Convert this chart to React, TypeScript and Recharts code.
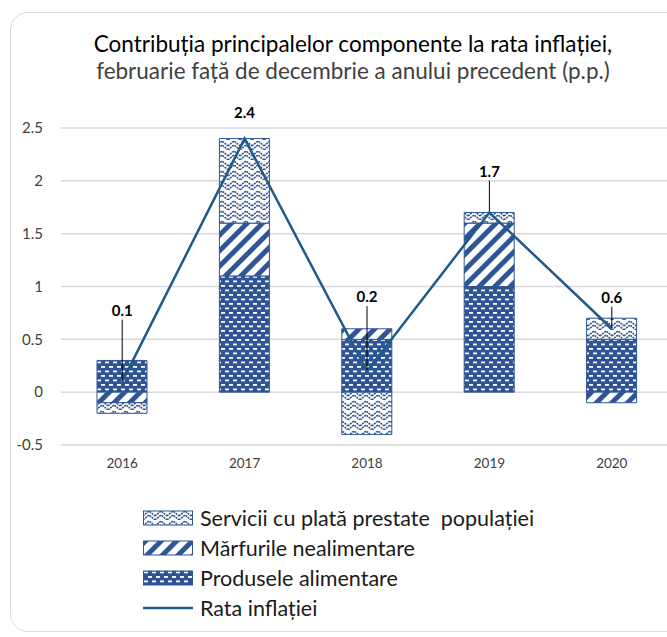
import React from 'react';
import {
  ComposedChart,
  Bar,
  Line,
  XAxis,
  YAxis,
  CartesianGrid,
  LabelList,
} from 'recharts';

const years = ['2016', '2017', '2018', '2019', '2020'];
const food = [0.3, 1.1, 0.5, 1.0, 0.5];
const nonFood = [-0.1, 0.5, 0.1, 0.6, -0.1];
const services = [-0.1, 0.8, -0.4, 0.1, 0.2];
const inflation = [0.1, 2.4, 0.2, 1.7, 0.6];
const yTicks = [-0.5, 0, 0.5, 1, 1.5, 2, 2.5];

const seriesNames = {
  services: 'Servicii cu plată prestate  populației',
  nonFood: 'Mărfurile nealimentare',
  food: 'Produsele alimentare',
  rate: 'Rata inflației',
};

const data = years.map((year, i) => ({
  year,
  food: food[i],
  nonFood: nonFood[i],
  services: services[i],
  rate: inflation[i],
}));

const BLUE = '#2F5597';
const LINE_BLUE = '#1F5A8A';
const FONT = 'Lato, "Noto Sans", sans-serif';

// how far above the line point each value label sits, and whether it gets a leader line
const labelLift = [72, 27, 75, 42, 32];
const hasLeader = [true, false, true, true, true];

const Patterns = () => (
  <defs>
    <pattern id="patFood" width="8" height="9" patternUnits="userSpaceOnUse">
      <rect width="8" height="9" fill={BLUE} />
      <rect x="1" y="1.5" width="4" height="1.8" fill="#fff" />
      <rect x="5" y="6" width="4" height="1.8" fill="#fff" />
      <rect x="-3" y="6" width="4" height="1.8" fill="#fff" />
    </pattern>
    <pattern
      id="patNonFood"
      width="11"
      height="11"
      patternUnits="userSpaceOnUse"
      patternTransform="rotate(45)"
    >
      <rect width="11" height="11" fill="#fff" />
      <rect width="5" height="11" fill={BLUE} />
    </pattern>
    <pattern id="patServices" width="12" height="10" patternUnits="userSpaceOnUse">
      <rect width="12" height="10" fill="#fff" />
      <polyline
        points="0,6 6,1 12,6"
        fill="none"
        stroke={BLUE}
        strokeWidth="1.6"
        strokeDasharray="2 0.8"
      />
      <polyline
        points="0,10 6,5 12,10"
        fill="none"
        stroke={BLUE}
        strokeWidth="1.6"
        strokeDasharray="2 0.8"
      />
    </pattern>
  </defs>
);

const RateLabel = (props: any) => {
  const { x, y, value, index } = props;
  const lift = labelLift[index] ?? 20;
  const ty = y - lift;
  return (
    <g>
      {hasLeader[index] && (
        <line x1={x} y1={ty + 10} x2={x} y2={y - 1} stroke="#000" strokeWidth={1} />
      )}
      <text
        x={x}
        y={ty}
        textAnchor="middle"
        dominantBaseline="central"
        fontFamily={FONT}
        fontWeight={700}
        fontSize={15}
        fill="#000"
      >
        {Number(value).toFixed(1)}
      </text>
    </g>
  );
};

const legendItems = [
  { key: 'services', fill: 'url(#patServices)' },
  { key: 'nonFood', fill: 'url(#patNonFood)' },
  { key: 'food', fill: 'url(#patFood)' },
  { key: 'rate', fill: '' },
];

const Legend = () => (
  <div style={{ position: 'absolute', left: 143, top: 503, fontFamily: FONT }}>
    {legendItems.map((item) => (
      <div
        key={item.key}
        style={{ display: 'flex', alignItems: 'center', height: 30, fontSize: 21.5, color: '#1a1a1a' }}
      >
        <svg width={50} height={16} style={{ marginRight: 7 }}>
          {item.fill ? (
            <rect x={0.5} y={1} width={49} height={14} fill={item.fill} stroke={BLUE} strokeWidth={1} />
          ) : (
            <line x1={0} y1={8} x2={50} y2={8} stroke={LINE_BLUE} strokeWidth={2.5} />
          )}
        </svg>
        <span style={{ whiteSpace: 'pre' }}>{seriesNames[item.key as keyof typeof seriesNames]}</span>
      </div>
    ))}
  </div>
);

export default function App() {
  return (
    <div
      style={{
        position: 'absolute',
        left: 0,
        top: 0,
        width: 667,
        height: 637,
        overflow: 'hidden',
        background: '#fff',
      }}
    >
      <div
        style={{
          position: 'absolute',
          left: 10,
          top: 12,
          width: 720,
          height: 620,
          border: '1px solid #d9d9d9',
          borderRadius: 18,
          boxSizing: 'border-box',
        }}
      />
      <div
        style={{
          position: 'absolute',
          left: 0,
          width: 706,
          top: 30,
          textAlign: 'center',
          fontFamily: FONT,
          fontSize: 22.5,
          color: '#000',
          lineHeight: '28px',
        }}
      >
        Contribuția principalelor componente la rata inflației,
      </div>
      <div
        style={{
          position: 'absolute',
          left: 0,
          width: 706,
          top: 57,
          textAlign: 'center',
          fontFamily: FONT,
          fontSize: 22.5,
          color: '#404040',
          lineHeight: '28px',
        }}
      >
        februarie față de decembrie a anului precedent (p.p.)
      </div>
      <div style={{ position: 'absolute', left: 0, top: 0 }}>
        <ComposedChart
          width={690}
          height={637}
          data={data}
          stackOffset="sign"
          margin={{ top: 128, right: 17, bottom: 162, left: 0 }}
        >
          <Patterns />
          <CartesianGrid vertical={false} stroke="#d9d9d9" strokeWidth={1.5} />
          <XAxis
            dataKey="year"
            axisLine={false}
            tickLine={false}
            tickMargin={7}
            height={30}
            tick={{ fontFamily: FONT, fontSize: 13.5, fill: '#404040' }}
          />
          <YAxis
            domain={[-0.5, 2.5]}
            ticks={yTicks}
            width={61}
            axisLine={false}
            tickLine={false}
            tickMargin={12}
            tick={{ fontFamily: FONT, fontSize: 15, fill: '#404040' }}
          />
          <Bar
            dataKey="food"
            stackId="a"
            barSize={50}
            fill="url(#patFood)"
            stroke={BLUE}
            strokeWidth={1}
            isAnimationActive={false}
          />
          <Bar
            dataKey="nonFood"
            stackId="a"
            barSize={50}
            fill="url(#patNonFood)"
            stroke={BLUE}
            strokeWidth={1}
            isAnimationActive={false}
          />
          <Bar
            dataKey="services"
            stackId="a"
            barSize={50}
            fill="url(#patServices)"
            stroke={BLUE}
            strokeWidth={1}
            isAnimationActive={false}
          />
          <Line
            dataKey="rate"
            type="linear"
            stroke={LINE_BLUE}
            strokeWidth={2.5}
            dot={false}
            activeDot={false}
            isAnimationActive={false}
          >
            <LabelList dataKey="rate" content={<RateLabel />} />
          </Line>
        </ComposedChart>
      </div>
      <Legend />
    </div>
  );
}
